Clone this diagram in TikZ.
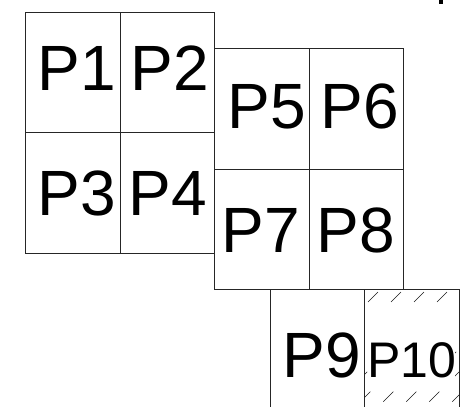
\documentclass[tikz,border=0pt]{standalone}
\usepackage{fontspec}
\setmainfont{Liberation Sans}
\begin{document}
\begin{tikzpicture}[x=1pt,y=-1pt,
  cellline/.style={line width=0.8pt,draw=black!85},
  hatchline/.style={line width=0.7pt,draw=black!90,dash pattern=on 14.1pt off 14.1pt},
  lab/.style={font=\fontsize{64}{70}\selectfont,inner sep=0pt,anchor=base},
  smalllab/.style={font=\fontsize{50}{55}\selectfont,inner ysep=0pt,inner xsep=-1.5pt,anchor=base,fill=white,text height=72pt,text depth=10pt}]
\useasboundingbox (0,0) rectangle (467,407);
% hatching of P10
\begin{scope}
  \clip (364,289) rectangle (459,407);
  \foreach \k in {0,...,11} {
    \draw[hatchline] ({378+23*\k},292) -- ++(-170,170);
  }
\end{scope}
\node[smalllab] (t10) at (412,377) {P10};
% cells
\begin{scope}
  \clip (0,0) rectangle (467,407);
  % group A
  \draw[cellline] (25,12) rectangle (214,253);
  \draw[cellline] (120,12) -- (120,253);
  \draw[cellline] (25,132) -- (214,132);
  % group B
  \draw[cellline] (214,48) rectangle (403,289);
  \draw[cellline] (309,48) -- (309,289);
  \draw[cellline] (214,169) -- (403,169);
  % group C
  \draw[cellline] (270,420) -- (270,289) -- (459,289) -- (459,420);
  \draw[cellline] (364,289) -- (364,420);
\end{scope}
% small mark at top
\fill[black] (439,0) rectangle (443,4);
% labels
\node[lab] (t1) at (77,90) {P1};
\node[lab] (t2) at (170,90) {P2};
\node[lab] (t3) at (77,215) {P3};
\node[lab] (t4) at (168,215) {P4};
\node[lab] (t5) at (267,128) {P5};
\node[lab] (t6) at (360,128) {P6};
\node[lab] (t7) at (261,252) {P7};
\node[lab] (t8) at (356,252) {P8};
\node[lab] (t9) at (322,377) {P9};
\end{tikzpicture}
\end{document}
